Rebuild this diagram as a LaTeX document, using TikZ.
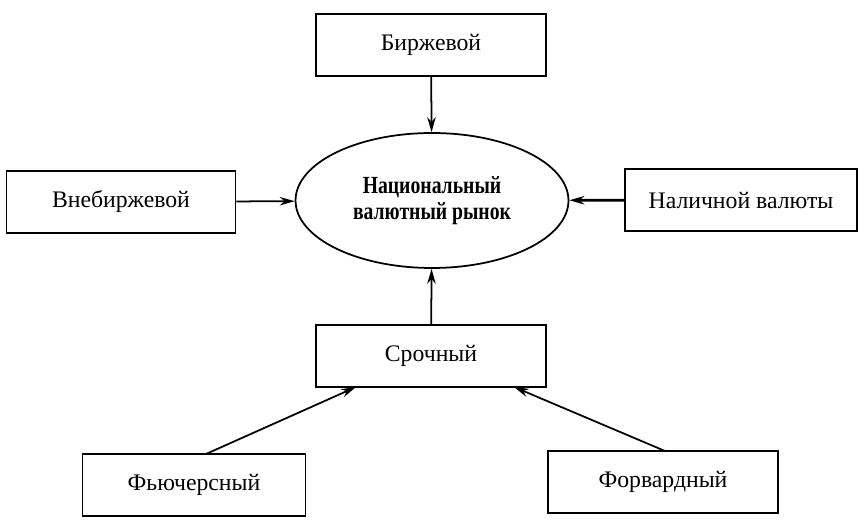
\documentclass[tikz,border=0pt]{standalone}
\usepackage{fontspec}
\setmainfont{Liberation Serif}
\newfontfamily\narrowbold[FakeStretch=0.8]{Liberation Serif Bold}
\usetikzlibrary{arrows.meta,shapes.geometric}
\tikzstyle{market-box} = [draw=black, line width=1pt, rectangle,
    inner sep=0pt, minimum height=1.25cm,
    font=\fontsize{13.5}{16}\selectfont]
\tikzstyle{market-core} = [draw=black, line width=1pt, ellipse,
    inner sep=0pt, minimum width=5.46cm, minimum height=2.7cm,
    align=center, font=\narrowbold\fontsize{14}{14.5}\selectfont]
\tikzstyle{feed} = [line width=1pt, -{Stealth[length=0.3cm, width=0.17cm]}]

\begin{document}
\begin{tikzpicture}[x=0.02cm, y=-0.02cm]
\useasboundingbox (0,0) rectangle (864,526);
\node [market-core] (core) at (432,200.5) {Национальный\\валютный рынок};
\node [market-box, minimum width=4.6cm] (exch) at (431,45) {Биржевой};
\node [market-box, minimum width=4.58cm] (otc) at (121,202) {Внебиржевой};
\node [market-box, minimum width=4.64cm] (cash) at (741,200) {Наличной валюты};
\node [market-box, minimum width=4.6cm] (term) at (431,356) {Срочный};
\node [market-box, minimum width=4.46cm] (fut) at (194,485) {Фьючерсный};
\node [market-box, minimum width=4.6cm] (fwd) at (663,482) {Форвардный};
\coordinate (fut-top) at (206,454);
\coordinate (fwd-top) at (665,451);
\coordinate (term-l) at (356,387);
\coordinate (term-r) at (514,387);
\draw [feed] (exch) -- (core);
\draw [feed] (otc) -- (core);
\draw [feed, line width=1.6pt] (cash) -- (core);
\draw [feed] (term) -- (core);
\draw [feed] (fut-top) -- (term-l);
\draw [feed] (fwd-top) -- (term-r);
\end{tikzpicture}
\end{document}
